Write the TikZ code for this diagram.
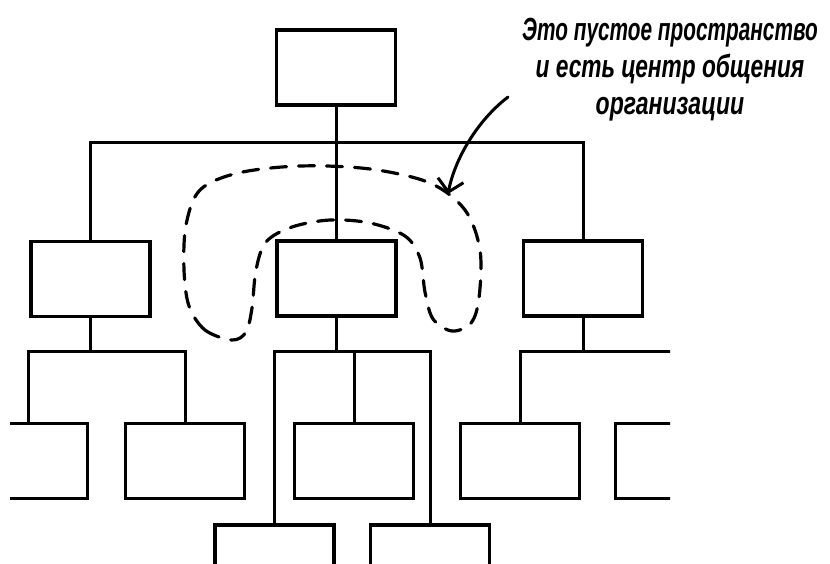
\documentclass[tikz,border=0pt]{standalone}
\usepackage{fontspec}
\usepackage{graphicx}
\newfontfamily\handfont{Liberation Sans}
\usetikzlibrary{arrows.meta}
\tikzset{
  orgbox/.style={draw=black, line width=3.2pt, fill=white, inner sep=0pt,
    rectangle, minimum width=119pt, minimum height=75pt},
  wire/.style={draw=black, line width=3pt},
  talkzone/.style={draw=black, line width=3.2pt, dash pattern=on 16pt off 12pt, line cap=round},
  pointer/.style={draw=black, line width=3pt, line cap=round,
    -{Straight Barb[length=12pt,width=26pt,line width=3pt]}},
  notetext/.style={font=\handfont\bfseries\itshape\fontsize{32}{37}\selectfont,
    align=center, inner sep=0pt}
}
\begin{document}
\begin{tikzpicture}[x=1pt,y=-1pt]
\useasboundingbox[fill=white] (0,0) rectangle (830,563);
\begin{scope}
\clip (10,0) rectangle (670,563);
% levels
\coordinate (bus1) at (0,142);
\coordinate (bus2) at (0,351);
% boxes
\node[orgbox] (top) at (336,67.5) {};
\node[orgbox] (ml) at (90.5,279) {};
\node[orgbox] (mc) at (336.5,278.5) {};
\node[orgbox] (mr) at (583,278.5) {};
\node[orgbox] (bA) at (28,461) {};
\node[orgbox] (bB) at (185,461) {};
\node[orgbox] (bC) at (354,461) {};
\node[orgbox] (bD) at (520,461) {};
\node[orgbox] (bE) at (675,461) {};
\node[orgbox] (bF) at (274.5,562.5) {};
\node[orgbox] (bG) at (430,562.5) {};
% connectors
\draw[wire] (top.south) -- (top.south |- bus1);
\draw[wire] (ml.north) -- (ml.north |- bus1) -- (mr.north |- bus1) -- (mr.north);
\draw[wire] (mc.north) -- (mc.north |- bus1);
\draw[wire] (ml.south) -- (ml.south |- bus2);
\draw[wire] (bA.north) -- (bA.north |- bus2) -- (bB.north |- bus2) -- (bB.north);
\draw[wire] (mc.south) -- (mc.south |- bus2);
\draw[wire] (bF.north) -- (bF.north |- bus2) -- (bG.north |- bus2) -- (bG.north);
\draw[wire] (bC.north) -- (bC.north |- bus2);
\draw[wire] (mr.south) -- (mr.south |- bus2);
\draw[wire] (bD.north) -- (bD.north |- bus2) -- (bE.north |- bus2) -- (bE.north);
% dashed zone
\draw[talkzone] plot[smooth cycle, tension=0.55] coordinates {
  (232,340) (205,330) (189,306) (184,270) (186,225) (200,190) (238,173)
  (300,166) (370,169) (430,183) (465,210) (480,250) (479,298) (471,323)
  (452,331) (433,319) (425,292) (420,258) (405,236) (370,223) (330,220)
  (292,227) (266,242) (256,270) (252,308) (246,332)};
\end{scope}
% note and arrow
\node[notetext] (note) at (670,70) {%
  \scalebox{0.65}[1]{Это пустое пространство}\\
  \scalebox{0.71}[1]{и есть центр общения}\\
  \scalebox{0.72}[1]{организации}};
\coordinate (arrowfrom) at (508,97);
\coordinate (arrowto) at (448,194);
\draw[pointer] (arrowfrom) .. controls (478,120) and (455,158) .. (arrowto);
\end{tikzpicture}
\end{document}
